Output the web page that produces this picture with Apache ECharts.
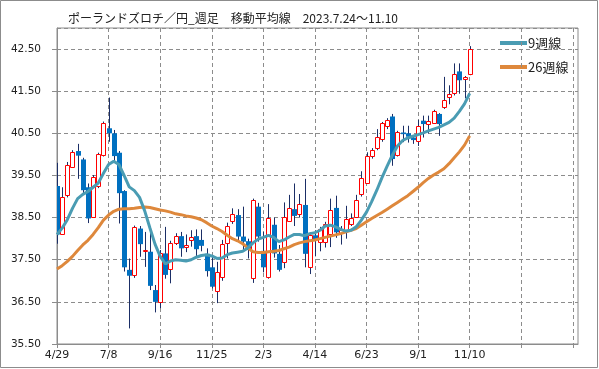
<!DOCTYPE html>
<html><head><meta charset="utf-8">
<script src="https://cdn.jsdelivr.net/npm/echarts@6/dist/echarts.min.js"></script>
<style>html,body{margin:0;padding:0;background:#fff}#c{width:599px;height:369px}</style>
</head><body><div id="c"></div>
<script>
const titleText = 'ポーランドズロチ／円_週足　移動平均線　2023.7.24～11.10';
const tickLabels = ['4/29','7/8','9/16','11/25','2/3','4/14','6/23','9/1','11/10'];
const slotCount = 102;
const legendNames = ['9週線','26週線'];

const opens = [39.25,38.12,39.04,39.71,40.08,39.88,39.22,38.52,39.25,39.98,
 40.62,40.50,40.04,39.13,37.26,37.14,38.24,37.71,37.69,36.78,
 36.49,37.65,37.27,37.89,38.06,37.80,37.98,38.06,37.97,37.64,
 37.32,36.75,37.08,37.89,38.41,38.56,38.05,37.94,37.06,38.76,
 37.71,37.10,38.33,37.64,37.45,38.43,38.70,38.58,38.80,37.32,
 38.08,37.92,37.91,38.12,38.73,38.14,38.18,38.34,38.52,39.07,
 39.33,39.97,40.15,40.37,40.68,40.90,39.99,40.52,40.50,40.40,
 40.31,40.80,40.71,40.75,40.96,41.12,41.37,41.45,41.97,41.78,
 41.90];
const closes = [38.10,39.00,39.76,40.05,39.97,39.15,38.48,39.46,40.01,40.74,
 40.50,39.96,39.08,37.32,37.12,38.27,37.87,37.74,36.88,36.50,
 37.67,37.14,37.89,38.06,37.77,37.85,38.03,37.75,37.83,37.23,
 36.86,37.21,37.87,38.31,38.58,38.05,37.93,37.73,38.92,38.05,
 37.32,38.48,37.65,37.26,38.51,38.72,38.54,38.82,37.64,38.08,
 37.98,38.23,38.35,38.69,38.15,38.20,38.46,38.48,38.91,39.45,
 39.97,40.10,40.42,40.75,40.82,39.89,40.52,40.48,40.42,40.34,
 40.67,40.72,40.80,41.04,40.72,41.29,41.43,41.92,41.76,41.84,
 42.51];
const lows = [37.88,38.10,38.98,39.68,39.42,39.05,38.37,38.50,39.20,39.95,
 40.30,39.80,38.36,37.22,35.87,37.07,37.57,37.33,36.78,36.25,
 36.35,37.05,36.94,37.85,37.57,37.68,37.81,37.59,37.70,37.10,
 36.82,36.47,37.00,37.53,38.35,37.93,37.73,37.53,36.95,37.93,
 37.20,37.05,37.55,37.22,37.30,38.40,38.30,38.50,37.32,37.16,
 37.58,37.70,37.79,37.80,38.02,37.86,38.00,38.30,38.50,39.00,
 39.30,39.90,40.10,40.30,40.60,39.73,39.95,40.29,40.28,40.25,
 40.20,40.40,40.50,40.74,40.44,41.08,41.19,41.40,41.44,41.33,
 41.88];
const highs = [39.80,39.22,39.82,40.10,40.25,39.92,39.31,39.51,40.04,40.78,
 41.35,40.58,40.08,39.15,37.53,38.31,38.30,38.16,38.16,36.90,
 37.73,38.28,37.95,38.13,38.16,38.10,38.20,38.22,38.22,37.77,
 37.60,37.45,37.97,38.38,38.72,38.70,38.76,38.00,38.95,38.85,
 38.16,38.82,38.50,37.85,38.86,39.04,39.31,39.06,39.42,38.15,
 38.20,38.28,38.40,38.95,39.02,38.30,38.78,38.60,39.04,39.60,
 40.05,40.15,40.60,40.77,40.86,40.96,40.56,40.68,40.68,40.46,
 40.82,40.92,40.92,41.06,40.98,41.84,41.64,42.16,42.16,41.86,
 42.57];
const ma9 = [38.10,38.25,38.45,38.72,38.95,39.05,39.12,39.22,39.32,39.55,
 39.76,39.84,39.76,39.50,39.23,39.14,38.98,38.66,38.26,37.87,
 37.58,37.40,37.47,37.50,37.49,37.47,37.50,37.56,37.60,37.62,
 37.59,37.53,37.54,37.62,37.66,37.68,37.70,37.78,37.90,37.99,
 38.03,38.08,38.03,37.93,37.97,38.04,38.10,38.10,38.07,38.12,
 38.14,38.20,38.30,38.32,38.28,38.22,38.18,38.20,38.28,38.44,
 38.63,38.88,39.15,39.45,39.72,39.98,40.20,40.33,40.39,40.43,
 40.47,40.51,40.56,40.60,40.64,40.70,40.76,40.86,41.02,41.20,
 41.45];
const ma26 = [37.28,37.36,37.46,37.58,37.72,37.85,37.96,38.10,38.26,38.44,
 38.56,38.65,38.70,38.71,38.71,38.72,38.74,38.75,38.74,38.71,
 38.68,38.66,38.63,38.59,38.57,38.54,38.52,38.49,38.45,38.38,
 38.30,38.24,38.17,38.08,38.00,37.95,37.88,37.78,37.69,37.67,
 37.67,37.69,37.70,37.72,37.76,37.80,37.86,37.90,37.93,37.95,
 37.97,38.00,38.03,38.06,38.09,38.12,38.16,38.20,38.24,38.32,
 38.40,38.48,38.55,38.62,38.70,38.78,38.86,38.94,39.02,39.12,
 39.22,39.33,39.43,39.51,39.58,39.66,39.78,39.92,40.06,40.22,
 40.44];

const TEAL = '#4A9CB3', ORANGE = '#DE883C', UPC = '#FF0000', DNC = '#0070C0', WICK = '#1B2E66';
const cats = Array.from({length: slotCount}, (_, i) => 'w' + i);
const candleData = opens.map((o, i) => [i, o, closes[i], lows[i], highs[i]]);

const chart = echarts.init(document.getElementById('c'), null, {renderer: 'canvas'});
chart.setOption({
  animation: false,
  backgroundColor: '#fff',
  title: {text: titleText, left: 63, top: 7,
    textStyle: {fontFamily: '"Noto Sans CJK JP"', fontSize: 12, fontWeight: 'normal', color: '#222'}},
  grid: {left: 57, right: 21, top: 28, bottom: 25, show: true, borderColor: '#8c8c8c', borderWidth: 1,
    outerBoundsMode: 'none', containLabel: false},
  xAxis: {
    type: 'category', data: cats, boundaryGap: false,
    axisLine: {show: true, lineStyle: {color: '#8c8c8c'}},
    axisTick: {show: true, interval: 9, length: 4, lineStyle: {color: '#8c8c8c'}},
    axisLabel: {interval: 9, margin: 6, fontSize: 11, color: '#222', fontFamily: '"DejaVu Sans"',
      formatter: (v, idx) => (idx % 10 === 0 && tickLabels[idx / 10]) ? tickLabels[idx / 10] : ''},
    splitLine: {show: true, interval: 9, lineStyle: {color: '#8c8c8c', type: [4, 3], width: 1}}
  },
  yAxis: {
    type: 'value', min: 35.5, max: 43, interval: 1, scale: false,
    axisLine: {show: true, lineStyle: {color: '#8c8c8c'}},
    axisTick: {show: true, length: 5, lineStyle: {color: '#8c8c8c'}},
    axisLabel: {margin: 16, fontSize: 10.5, color: '#222', fontFamily: '"DejaVu Sans"', showMaxLabel: false,
      formatter: v => (Math.abs(v - 43) < 1e-6 ? '' : v.toFixed(2))},
    splitLine: {show: true, lineStyle: {color: '#8c8c8c', type: [4, 3], width: 1}}
  },
  graphic: [
    {type: 'rect', shape: {x: 0.5, y: 0.5, width: 597, height: 367}, style: {fill: null, stroke: '#8c8c8c', lineWidth: 1}, silent: true},
    {type: 'line', shape: {x1: 500, y1: 43, x2: 527, y2: 43}, style: {stroke: TEAL, lineWidth: 4}},
    {type: 'text', x: 528, y: 43, style: {text: legendNames[0], fill: '#222', font: '13px "Noto Sans CJK JP"', verticalAlign: 'middle'}},
    {type: 'line', shape: {x1: 500, y1: 67, x2: 527, y2: 67}, style: {stroke: ORANGE, lineWidth: 4}},
    {type: 'text', x: 528, y: 67, style: {text: legendNames[1], fill: '#222', font: '13px "Noto Sans CJK JP"', verticalAlign: 'middle'}}
  ],
  series: [
    {
      type: 'custom', name: 'candle', data: candleData, z: 2, clip: true,
      encode: {x: 0, y: [1, 2, 3, 4]},
      renderItem: function (params, api) {
        const i = api.value(0), o = api.value(1), c = api.value(2), l = api.value(3), h = api.value(4);
        const pO = api.coord([i, o]), pC = api.coord([i, c]), pL = api.coord([i, l]), pH = api.coord([i, h]);
        const x = Math.round(pO[0]);
        const up = c >= o;
        const top = Math.min(pO[1], pC[1]), bot = Math.max(pO[1], pC[1]);
        const children = [{type: 'line', shape: {x1: x + 0.5, y1: pH[1], x2: x + 0.5, y2: pL[1]}, style: {stroke: WICK, lineWidth: 1}}];
        if (up) {
          const t = Math.round(top) + 0.5, b = Math.round(bot) + 0.5;
          children.push({type: 'rect', shape: {x: x - 1.5, y: t, width: 4, height: Math.max(b - t, 1)}, style: {fill: '#fff', stroke: UPC, lineWidth: 1}});
        } else {
          children.push({type: 'rect', shape: {x: x - 2, y: top, width: 5, height: Math.max(bot - top, 1.5)}, style: {fill: DNC}});
        }
        return {type: 'group', children};
      }
    },
    {type: 'line', name: legendNames[1], data: ma26, z: 3, showSymbol: false, symbol: 'none',
      lineStyle: {color: ORANGE, width: 3}, itemStyle: {color: ORANGE}},
    {type: 'line', name: legendNames[0], data: ma9, z: 4, showSymbol: false, symbol: 'none',
      lineStyle: {color: TEAL, width: 3}, itemStyle: {color: TEAL}}
  ]
});
</script></body></html>
